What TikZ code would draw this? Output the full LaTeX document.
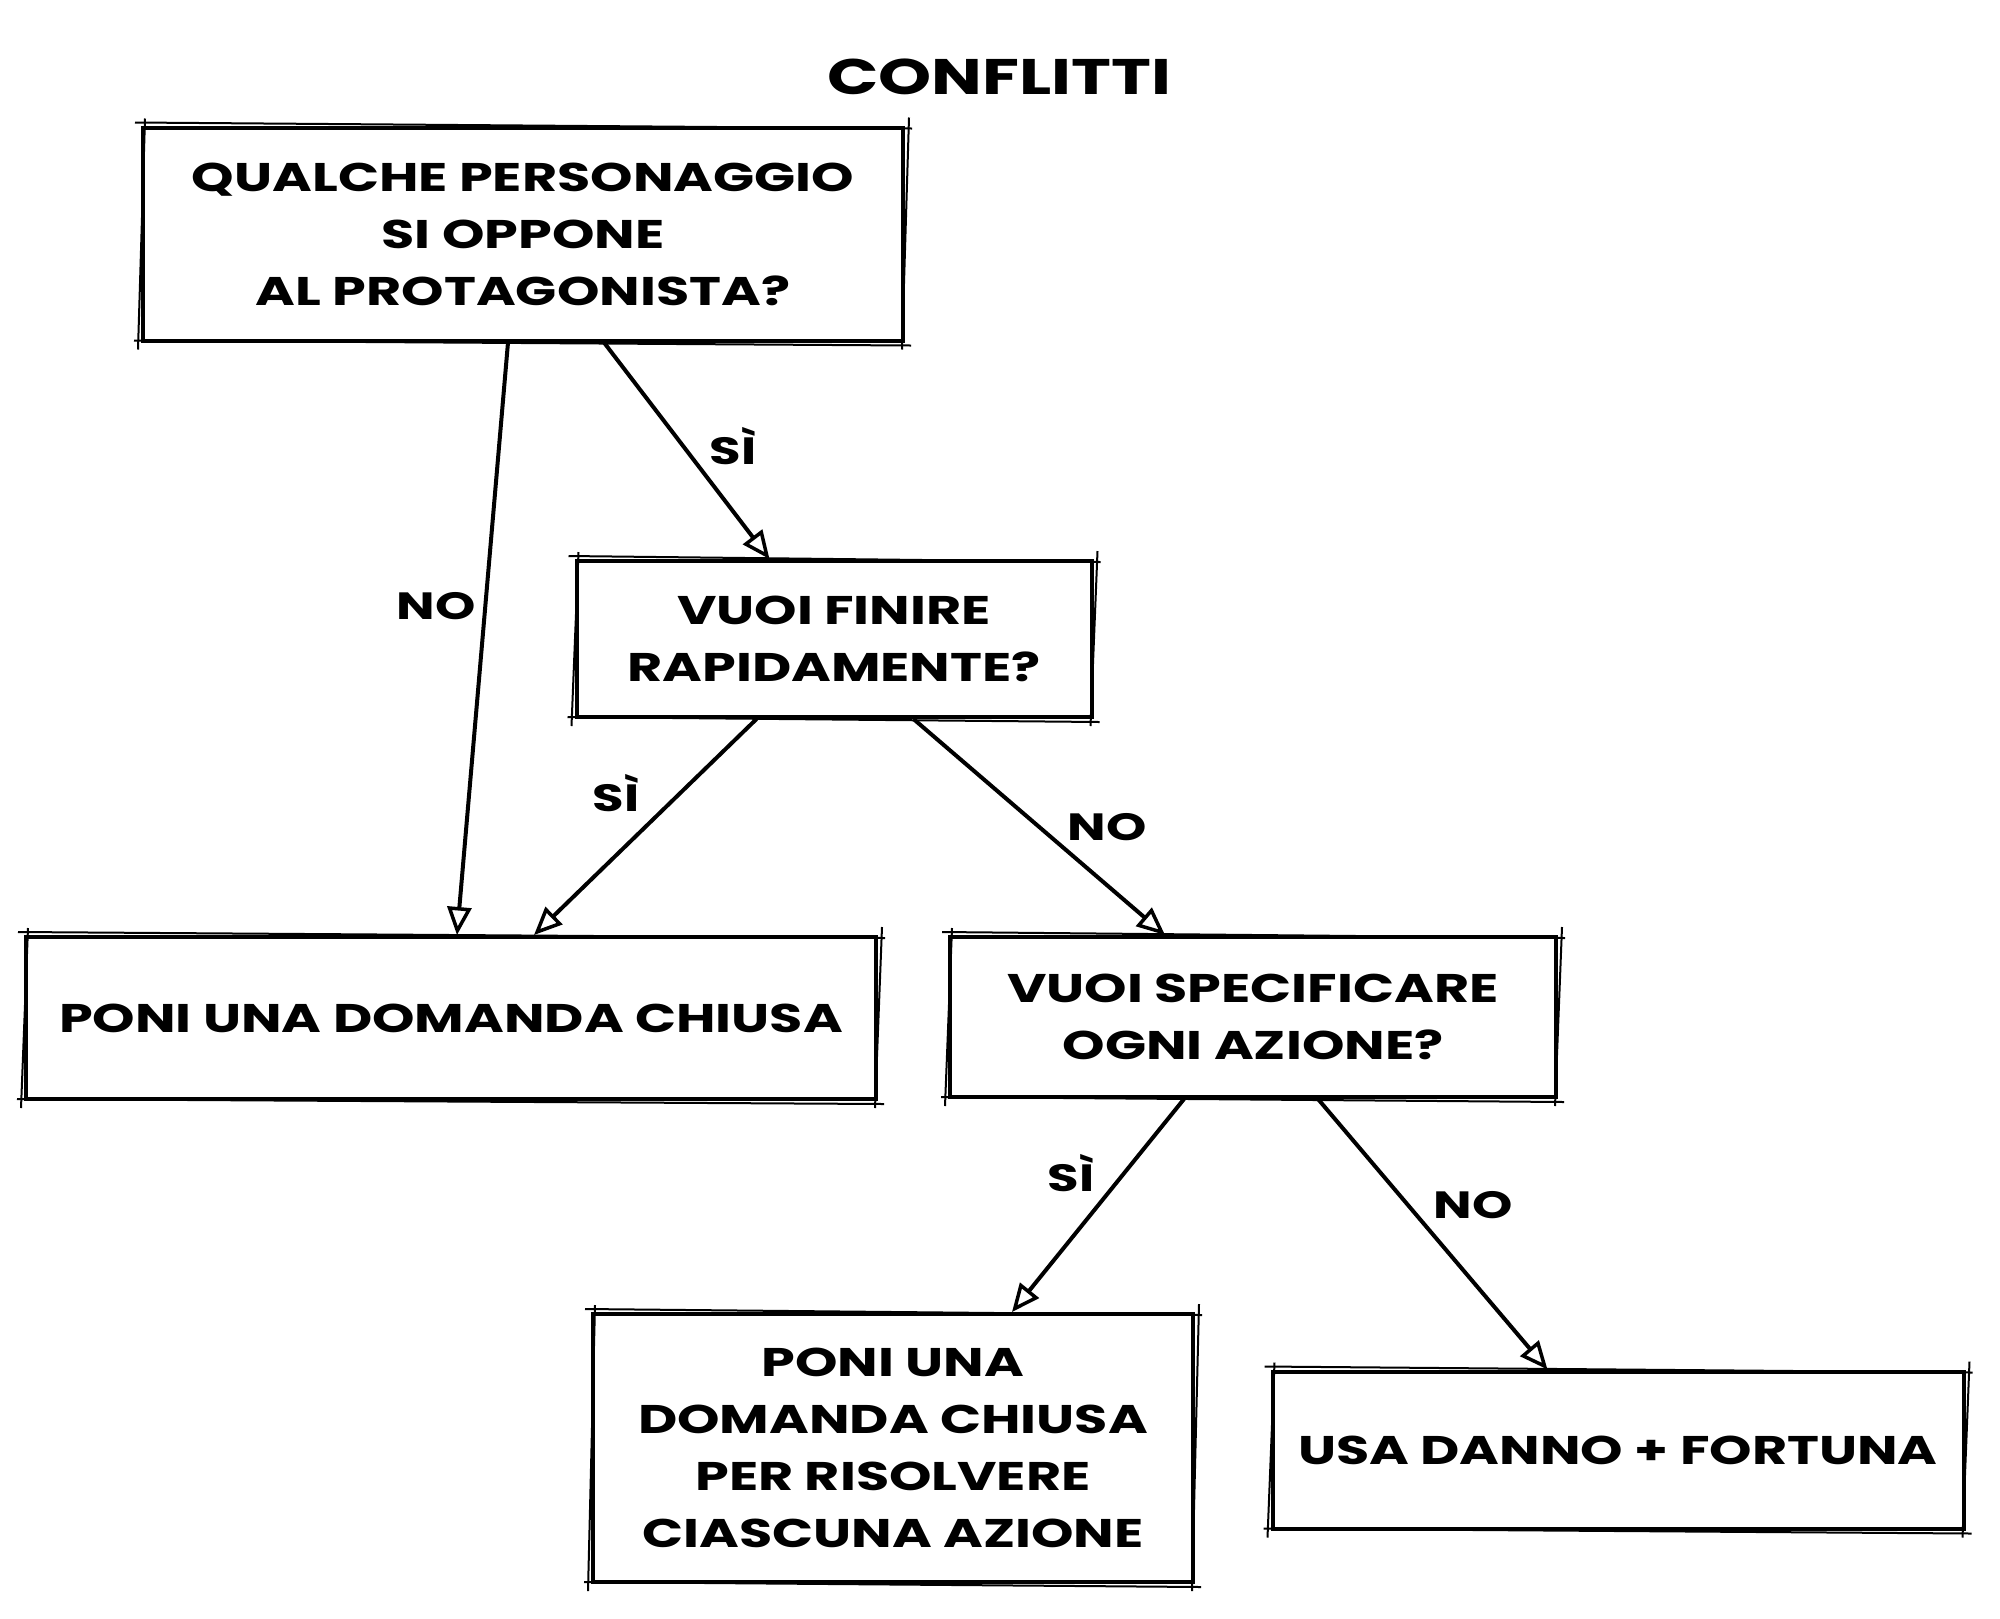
\documentclass[tikz,border=0pt]{standalone}
\usepackage{fontspec}
\setmainfont{Poppins}[FakeStretch=1.35]
\usetikzlibrary{arrows.meta}
\newcommand\txt{\bfseries\fontsize{40}{57}\selectfont}
\newcommand\lbltxt{\bfseries\fontsize{38}{45}\selectfont}
\newcommand\ttltxt{\bfseries\fontsize{50}{60}\selectfont}
\newcommand\rough[1]{%
  \draw[sk] ([shift={(-6,-3)}]#1.north west) -- ([shift={(7,3)}]#1.north east);
  \draw[sk] ([shift={(4,-8)}]#1.north east) -- ([shift={(-3,7)}]#1.south east);
  \draw[sk] ([shift={(6,3)}]#1.south east) -- ([shift={(-7,-2)}]#1.south west);
  \draw[sk] ([shift={(-3,7)}]#1.south west) -- ([shift={(4,-7)}]#1.north west);
}
\begin{document}
\begin{tikzpicture}[x=1pt,y=-1pt,
  box/.style={draw,line width=4pt,align=center,inner sep=0pt,font=\txt},
  sk/.style={line width=2pt},
  arr/.style={line width=4pt,-{Triangle[open,length=28pt,width=24pt,line width=3.5pt]}},
  lbl/.style={font=\lbltxt},
  ttl/.style={font=\ttltxt}]
\useasboundingbox (0,0) rectangle (2000,1618);
\fill[white] (0,0) rectangle (2000,1618);

\node[ttl] (title) at (999,77) {CONFLITTI};
\node[box,minimum width=760,minimum height=213] (b1) at (523,234) {QUALCHE PERSONAGGIO\\SI OPPONE\\AL PROTAGONISTA?};
\node[box,minimum width=515,minimum height=156] (b2) at (834,639) {VUOI FINIRE\\RAPIDAMENTE?};
\node[box,minimum width=850,minimum height=162] (b3) at (451,1018) {PONI UNA DOMANDA CHIUSA};
\node[box,minimum width=606,minimum height=160] (b4) at (1253,1017) {VUOI SPECIFICARE\\OGNI AZIONE?};
\node[box,minimum width=600,minimum height=268] (b5) at (893,1448) {PONI UNA\\DOMANDA CHIUSA\\PER RISOLVERE\\CIASCUNA AZIONE};
\node[box,minimum width=691,minimum height=157] (b6) at (1618,1450) {USA DANNO + FORTUNA};

\rough{b1}\rough{b2}\rough{b3}\rough{b4}\rough{b5}\rough{b6}

\draw[arr] ([xshift=367]b1.south west) -- ([xshift=433]b3.north west);
\draw[arr] ([xshift=463]b1.south west) -- ([xshift=195]b2.north west);
\draw[arr] ([xshift=182]b2.south west) -- ([xshift=510]b3.north west);
\draw[arr] ([xshift=339]b2.south west) -- ([xshift=217]b4.north west);
\draw[arr] ([xshift=236]b4.south west) -- ([xshift=421]b5.north west);
\draw[arr] ([xshift=370]b4.south west) -- ([xshift=277]b6.north west);

\node[lbl] (l1) at (436,606) {NO};
\node[lbl] (l2) at (733,446) {SÌ};
\node[lbl] (l3) at (616,793) {SÌ};
\node[lbl] (l4) at (1107,827) {NO};
\node[lbl] (l5) at (1071,1173) {SÌ};
\node[lbl] (l6) at (1473,1205) {NO};
\end{tikzpicture}
\end{document}
